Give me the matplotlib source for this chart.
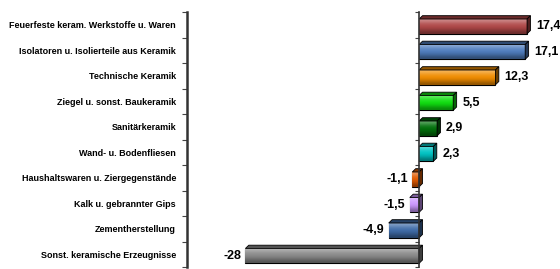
import numpy as np
import matplotlib.pyplot as plt
from matplotlib.colors import to_rgb
from matplotlib.patches import Polygon

# Daten
categories = ['Feuerfeste keram. Werkstoffe u. Waren',
              'Isolatoren u. Isolierteile aus Keramik',
              'Technische Keramik',
              'Ziegel u. sonst. Baukeramik',
              'Sanitärkeramik',
              'Wand- u. Bodenfliesen',
              'Haushaltswaren u. Ziergegenstände',
              'Kalk u. gebrannter Gips',
              'Zementherstellung',
              'Sonst. keramische Erzeugnisse']
values = [17.4, 17.1, 12.3, 5.5, 2.9, 2.3, -1.1, -1.5, -4.9, -28]
value_labels = ['17,4', '17,1', '12,3', '5,5', '2,9', '2,3', '-1,1', '-1,5', '-4,9', '-28']
colors = ['#B04848', '#4F7DBE', '#F08C00', '#10E010', '#00700A',
          '#00C4C4', '#E05A00', '#CC99FF', '#3F6CA8', '#8A8A8A']

plt.rcParams['font.family'] = ['Liberation Sans', 'DejaVu Sans']

fig = plt.figure(figsize=(5.6, 2.69), dpi=100)
ax = fig.add_axes([0.334, 0.007, 0.636, 0.948])

xmin, xmax = -37.4, 20.0
y = np.arange(len(values))
bh = 0.58
off = 0.06
dx, dy = 0.55, 0.13

def shade(c, f):
    r = np.array(to_rgb(c))
    return tuple(r * f)

def tint(c, f):
    r = np.array(to_rgb(c))
    return tuple(r + (1 - r) * f)

bars = ax.barh(y + off, values, height=bh, color=colors, edgecolor='black',
               linewidth=0.8, zorder=3)

for i, (b, v, c) in enumerate(zip(bars, values, colors)):
    x0, x1 = min(0, v), max(0, v)
    yt = y[i] + off - bh / 2
    yb = y[i] + off + bh / 2
    # Verlauf auf der Vorderseite
    grad = np.array([tint(c, 0.35), tint(c, 0.1), to_rgb(c), shade(c, 0.85), shade(c, 0.6)])
    im = ax.imshow(grad.reshape(-1, 1, 3), extent=[x0, x1, yb, yt], aspect='auto',
                   interpolation='bicubic', zorder=3)
    im.set_clip_path(b)
    # Oberseite
    top = Polygon([(x0, yt), (x1, yt), (x1 + dx, yt - dy), (x0 + dx, yt - dy)],
                  closed=True, facecolor=shade(c, 0.6), edgecolor='black', lw=0.6, zorder=4)
    ax.add_patch(top)
    # Seite
    side = Polygon([(x1, yt), (x1 + dx, yt - dy), (x1 + dx, yb - dy), (x1, yb)],
                   closed=True, facecolor=shade(c, 0.45), edgecolor='black', lw=0.6, zorder=4)
    ax.add_patch(side)

    if v >= 0:
        ax.text(v + dx + 0.9, y[i] + off, value_labels[i], ha='left', va='center',
                fontsize=9, fontweight='bold', zorder=5)
    else:
        ax.text(v - 0.7, y[i] + off, value_labels[i], ha='right', va='center',
                fontsize=9, fontweight='bold', zorder=5)

ax.set_xlim(xmin, xmax)
ax.set_ylim(len(values) - 0.5, -0.5)

ax.set_yticks(y)
ax.set_yticklabels(categories, fontsize=6.5, fontweight='bold')
ax.set_yticks(np.arange(len(values) + 1) - 0.5, minor=True)
ax.tick_params(axis='y', which='major', length=0, pad=8)
ax.tick_params(axis='y', which='minor', length=3.6, width=0.8, color='#444444')
ax.set_xticks([])
for s in ['top', 'right', 'bottom']:
    ax.spines[s].set_visible(False)
ax.spines['left'].set_linewidth(1.8)
ax.spines['left'].set_color('#333333')
ax.patch.set_visible(False)

# Nulllinie mit Teilstrichen
ax2 = fig.add_axes(ax.get_position())
ax2.set_xlim(xmin, xmax)
ax2.set_ylim(len(values) - 0.5, -0.5)
ax2.patch.set_visible(False)
for s in ['top', 'right', 'bottom']:
    ax2.spines[s].set_visible(False)
ax2.spines['left'].set_position(('data', 0))
ax2.spines['left'].set_linewidth(1.2)
ax2.spines['left'].set_color('#333333')
ax2.set_xticks([])
ax2.set_yticks(np.arange(len(values) + 1) - 0.5)
ax2.set_yticklabels([])
ax2.tick_params(axis='y', length=3.2, width=0.8, color='#444444')
ax2.set_zorder(ax.get_zorder() + 1)

fig.savefig('out.png', dpi=100)
